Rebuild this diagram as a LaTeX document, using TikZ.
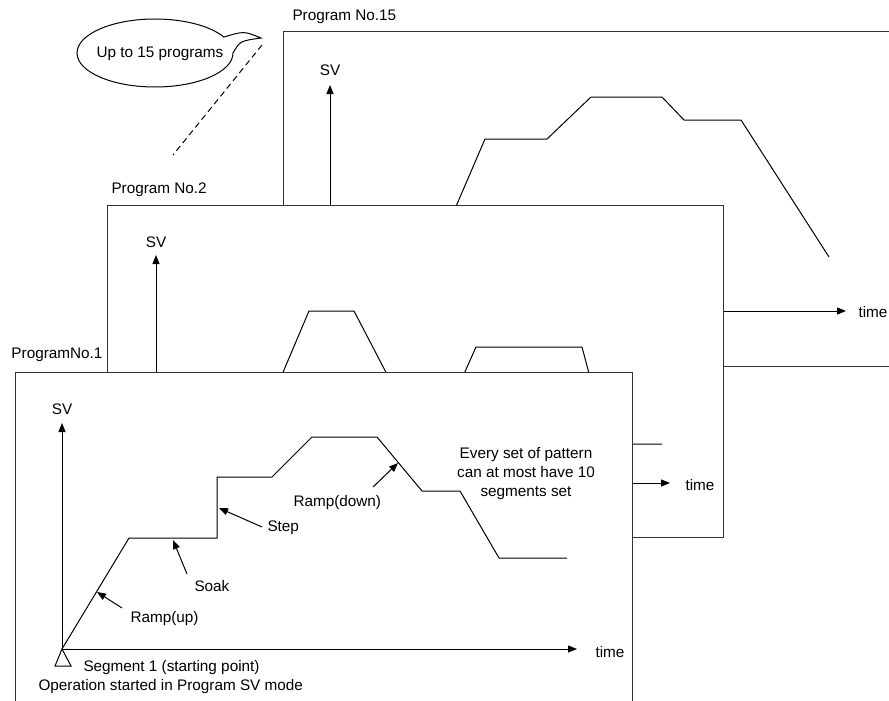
\documentclass[tikz,border=0pt]{standalone}
\usepackage{fontspec}
\setmainfont{Liberation Sans}
\usetikzlibrary{arrows, arrows.meta}
\newcommand{\lblsize}{\fontsize{15.3}{19}\selectfont}

\begin{document}
\begin{tikzpicture}[x=1pt, y=-1pt, line width=1pt,
		>={Triangle[length=9pt,width=7pt]},
		frame/.style={draw=black!80, fill=white},
		lbl/.style={font=\lblsize, inner sep=0pt},
		axis/.style={->}]
			
			\useasboundingbox (0,0) rectangle (889,701);
			\clip (0,0) rectangle (889,701);
			
			% the talking bubble
			\draw (233,53) arc[start angle=0, end angle=332, x radius=78, y radius=34]
				.. controls (244,31) .. (261,38) .. controls (240,41) .. (233,53);
			\node[lbl] (bubble) at (160,54) {Up to 15 programs};
			\coordinate (dashtop) at (262,45);
			\coordinate (dashend) at (173,155);
			\draw[dash pattern=on 6pt off 4pt] (dashtop) -- (dashend);
			
			% Program No.15
			\draw[frame] (283,32) rectangle (900,366);
			\node[lbl, anchor=west] (pXV) at (292,17) {Program No.15};
			\coordinate (oXV) at (330,311);
			\coordinate (svXV) at (330,85);
			\coordinate (tXV) at (846,311);
			\draw[axis] (oXV) -- (svXV);
			\draw[axis] (oXV) -- (tXV);
			\node[lbl] (svlXV) at (330,70) {SV};
			\node[lbl, anchor=west] (timeXV) at (858,312) {time};
			\draw (411,311) -- (485,139) -- (547,139) -- (591,97) -- (662,97)
				-- (684,120) -- (741,120) -- (829,257);
			
			% Program No.2
			\draw[frame] (107,205) rectangle (723,537);
			\node[lbl, anchor=west] (pII) at (111,190) {Program No.2};
			\coordinate (oII) at (156,483);
			\coordinate (svII) at (156,255);
			\coordinate (tII) at (670,483);
			\draw[axis] (oII) -- (svII);
			\draw[axis] (oII) -- (tII);
			\node[lbl] (svlII) at (156,242) {SV};
			\node[lbl, anchor=west] (timeII) at (685,485) {time};
			\draw (236,483) -- (309,311) -- (354,311) -- (415,428) -- (440,428)
				-- (476,347) -- (582,347) -- (604,430) -- (618,444) -- (662,444);
			
			% ProgramNo.1
			\draw[frame] (15,372) rectangle (632,720);
			\node[lbl, anchor=west] (pI) at (11,355) {ProgramNo.1};
			\coordinate (oI) at (62,649);
			\coordinate (svI) at (62,423);
			\coordinate (tI) at (577,649);
			\draw[axis] (oI) -- (svI);
			\draw[axis] (oI) -- (tI);
			\node[lbl] (svlI) at (62,409) {SV};
			\node[lbl, anchor=west] (timeI) at (595,652) {time};
			\draw (oI) -- (55,666) -- (71,666) -- cycle;
			\node[lbl, anchor=west] (seg) at (83,668) {Segment 1 (starting point)};
			\node[lbl, anchor=west] (oper) at (38,687) {Operation started in Program SV mode};
			\draw (oI) -- (129,538) -- (217,538) -- (217,477) -- (272,477) -- (312,437)
				-- (377,437) -- (422,491) -- (460,491) -- (499,558) -- (567,558);
			
			% what the segments are called
			\node[lbl, anchor=west] (rampup) at (130,619) {Ramp(up)};
			\node[lbl, anchor=west] (soak) at (194,586) {Soak};
			\node[lbl, anchor=west] (step) at (267,528) {Step};
			\node[lbl, anchor=west] (rampdown) at (293,503) {Ramp(down)};
			\coordinate (ru-a) at (122,608);  \coordinate (ru-b) at (97,592);
			\coordinate (sk-a) at (187,574);  \coordinate (sk-b) at (173,540);
			\coordinate (st-a) at (262,527);  \coordinate (st-b) at (219,508);
			\coordinate (rd-a) at (373,487);  \coordinate (rd-b) at (398,463);
			\draw[->] (ru-a) -- (ru-b);
			\draw[->] (sk-a) -- (sk-b);
			\draw[->] (st-a) -- (st-b);
			\draw[->] (rd-a) -- (rd-b);
			\node[lbl, align=center] (note) at (526,474)
				{Every set of pattern\\can at most have 10\\segments set};
			
		\end{tikzpicture}
\end{document}
